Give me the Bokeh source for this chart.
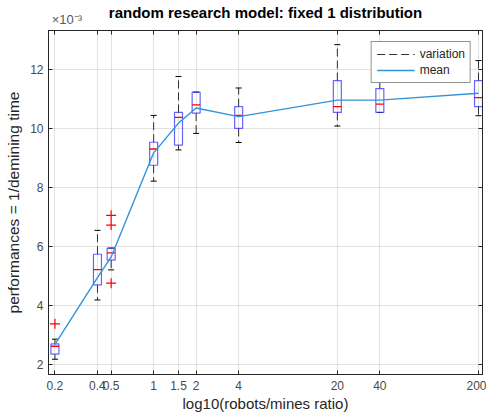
from bokeh.plotting import figure
from bokeh.models import (ColumnDataSource, FixedTicker, LogAxis, LinearAxis,
                          CustomJSTickFormatter)
from bokeh.embed import file_html
from bokeh.resources import INLINE

# ---- data (values in units of 1e-3) ----
ratios = [0.2, 0.4, 0.5, 1, 1.5, 2, 4, 20, 40, 200]
tick_labels = ["0.2", "0.4", "0.5", "1", "1.5", "2", "4", "20", "40", "200"]
q1 = [2.35, 4.70, 5.54, 8.76, 9.44, 10.53, 10.01, 10.55, 10.55, 10.75]
q3 = [2.70, 5.74, 5.95, 9.54, 10.55, 11.24, 10.75, 11.63, 11.36, 11.63]
medians = [2.62, 5.22, 5.79, 9.31, 10.38, 10.81, 10.45, 10.75, 10.83, 11.05]
whisk_lo = [2.18, 4.19, 5.21, 8.22, 9.28, 9.84, 9.53, 10.09, 10.55, 10.44]
whisk_hi = [2.86, 6.55, 5.95, 10.45, 11.77, 11.24, 11.38, 12.85, 12.30, 12.31]
means = [2.68, 4.95, 5.65, 9.18, 10.19, 10.70, 10.41, 10.97, 10.97, 11.20]
outlier_x = [0.2, 0.5, 0.5, 0.5]
outlier_y = [3.38, 7.06, 6.73, 4.76]
y_ticks = [2, 4, 6, 8, 10, 12]
title_text = "random research model: fixed 1 distribution"
exponent_text = "×10⁻³"

FONT = "Liberation Sans"
AXC = "#262626"

p = figure(width=486, height=417, x_axis_type="log",
           x_range=(0.18, 213.4), y_range=(1.662, 13.33),
           output_backend="svg", toolbar_location=None,
           min_border_left=48, min_border_right=4, min_border_top=29,
           min_border_bottom=43)
p.background_fill_color = "white"
p.border_fill_color = "white"
p.outline_line_color = AXC

overrides = {r: t for r, t in zip(ratios, tick_labels)}

xa = p.xaxis[0]
xa.ticker = FixedTicker(ticks=ratios, minor_ticks=[])
xa.major_label_overrides = overrides
ya = p.yaxis[0]
ya.ticker = FixedTicker(ticks=y_ticks, minor_ticks=[])
for ax in (xa, ya):
    ax.major_tick_in = 4
    ax.major_tick_out = 0
    ax.minor_tick_in = 0
    ax.minor_tick_out = 0
    ax.axis_line_color = AXC
    ax.major_tick_line_color = AXC
    ax.major_label_text_font = FONT
    ax.major_label_text_font_size = "12px"
    ax.major_label_text_color = "#4a4a4a"
    ax.axis_label_text_font = FONT
    ax.axis_label_text_font_style = "normal"
    ax.axis_label_text_color = "#262626"
xa.axis_label_text_font_size = "15px"
ya.axis_label_text_font_size = "15.5px"
xa.axis_label = "log10(robots/mines ratio)"
ya.axis_label = "performances = 1/demining time"
xa.major_label_standoff = 6
xa.axis_label_standoff = 2
ya.major_label_standoff = 5
ya.axis_label_standoff = 5

# mirrored axes (ticks only, no labels)
top = LogAxis(ticker=FixedTicker(ticks=ratios, minor_ticks=[]),
              formatter=CustomJSTickFormatter(code="return ''"))
right = LinearAxis(ticker=FixedTicker(ticks=y_ticks, minor_ticks=[]),
                   formatter=CustomJSTickFormatter(code="return ''"))
for ax in (top, right):
    ax.major_tick_in = 4
    ax.major_tick_out = 0
    ax.minor_tick_in = 0
    ax.minor_tick_out = 0
    ax.major_label_standoff = 0
    ax.axis_line_color = AXC
    ax.major_tick_line_color = AXC
p.add_layout(top, "above")
p.add_layout(right, "right")

# header axis: carries the x10^-3 exponent (as a tick label) and the title (as axis label)
exp_pos = 0.243
header = LogAxis(ticker=FixedTicker(ticks=[exp_pos], minor_ticks=[]),
                 major_label_overrides={exp_pos: exponent_text})
header.axis_line_color = None
header.major_tick_line_color = None
header.major_tick_in = 0
header.major_tick_out = 0
header.minor_tick_in = 0
header.minor_tick_out = 0
header.major_label_standoff = 4
header.major_label_text_font = FONT
header.major_label_text_font_size = "13px"
header.major_label_text_color = "#5a5a5a"
header.axis_label = title_text
header.axis_label_text_font = FONT
header.axis_label_text_font_size = "15px"
header.axis_label_text_font_style = "bold"
header.axis_label_text_color = "black"
header.axis_label_standoff = -12
p.add_layout(header, "above")

p.xgrid.ticker = FixedTicker(ticks=ratios, minor_ticks=[])
p.ygrid.ticker = FixedTicker(ticks=y_ticks, minor_ticks=[])
for g in (p.xgrid[0], p.ygrid[0]):
    g.grid_line_color = "#262626"
    g.grid_line_alpha = 0.13

box_src = ColumnDataSource(dict(
    x=ratios,
    mid=[(a + b) / 2 for a, b in zip(q1, q3)],
    h=[b - a for a, b in zip(q1, q3)],
    med=medians, lo=whisk_lo, hi=whisk_hi, q1=q1, q3=q3, mean=means))

# whiskers (dashed)
p.segment(x0=ratios + ratios, y0=q3 + q1, x1=ratios + ratios, y1=whisk_hi + whisk_lo,
          line_color="black", line_alpha=0.8, line_width=1, line_dash="8 4",
          legend_label="variation")
# caps
p.scatter(x="x", y="hi", source=box_src, marker="dash", size=6,
          line_color="black", line_width=1)
p.scatter(x="x", y="lo", source=box_src, marker="dash", size=6,
          line_color="black", line_width=1)
# boxes
p.rect(x="x", y="mid", width=8, width_units="screen", height="h", source=box_src,
       fill_alpha=0, line_color="#3030ff", line_alpha=0.75, line_width=1.2)
# medians
p.scatter(x="x", y="med", source=box_src, marker="dash", size=8,
          line_color="red", line_width=1.3)
# outliers
p.scatter(x=outlier_x, y=outlier_y, marker="cross", size=10,
          line_color="red", line_width=1.2)
# mean line
p.line(x="x", y="mean", source=box_src, line_color="#3194d8", line_width=1.4,
       legend_label="mean")

lg = p.legend[0]
lg.location = "top_right"
lg.margin = 11
lg.padding = 5
lg.spacing = 2
lg.glyph_width = 38
lg.glyph_height = 14
lg.label_height = 14
lg.label_standoff = 5
lg.label_text_font = FONT
lg.label_text_font_size = "12px"
lg.label_text_color = "#262626"
lg.border_line_color = "#262626"
lg.border_line_width = 1
lg.background_fill_alpha = 1

open("out.html", "w").write(file_html(p, INLINE))
